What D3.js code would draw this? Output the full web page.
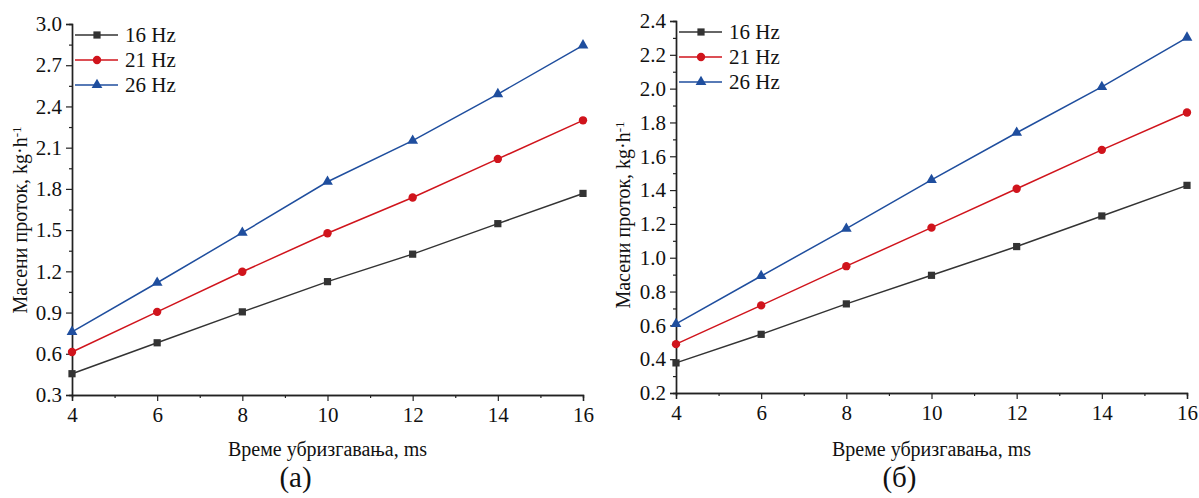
<!DOCTYPE html>
<html lang="sr">
<head>
  <meta charset="UTF-8">
  <title>Масени проток</title>
  <script src="https://d3js.org/d3.v7.min.js"></script>
  <style>
    body { margin: 0; background: #fff; }
    text { font-family: 'Liberation Serif', 'Times New Roman', serif; fill: #111; }
  </style>
</head>
<body>
<div class="canvas"></div>
<script>
  // data
  const xValues = [4, 6, 8, 10, 12, 14, 16]
  const seriesNames = ['16 Hz', '21 Hz', '26 Hz']
  const panelA16 = [0.455, 0.68, 0.905, 1.125, 1.325, 1.547, 1.767]
  const panelA21 = [0.613, 0.905, 1.197, 1.477, 1.737, 2.018, 2.299]
  const panelA26 = [0.76, 1.117, 1.481, 1.852, 2.151, 2.49, 2.845]
  const panelB16 = [0.378, 0.547, 0.727, 0.896, 1.066, 1.247, 1.428]
  const panelB21 = [0.489, 0.718, 0.95, 1.178, 1.408, 1.638, 1.859]
  const panelB26 = [0.609, 0.892, 1.172, 1.46, 1.739, 2.01, 2.302]
  const xTicks = [4, 6, 8, 10, 12, 14, 16]
  const yTicksA = [0.3, 0.6, 0.9, 1.2, 1.5, 1.8, 2.1, 2.4, 2.7, 3.0]
  const yTicksB = [0.2, 0.4, 0.6, 0.8, 1.0, 1.2, 1.4, 1.6, 1.8, 2.0, 2.2, 2.4]
  const xTitle = 'Време убризгавања, ms'
  const yTitle = 'Масени проток, kg·h'

  const colors = ['#333333', '#d0141c', '#1f4e9e']
  const symbols = [d3.symbolSquare, d3.symbolCircle, d3.symbolTriangle]
  const symSize = [52, 55, 50]

  const svg = d3.select('.canvas')
    .append('svg')
    .attr('width', 1199)
    .attr('height', 498)

  function panel(opt) {
    const x = d3.scaleLinear().domain([4, 16]).range([opt.x0, opt.x1])
    const y = d3.scaleLinear().domain(opt.yDomain).range([opt.y0, opt.y1])
    const g = svg.append('g')

    // minor ticks
    const xMinor = d3.range(5, 16, 2)
    const yMinor = opt.yTicks.slice(0, -1).map((t, i) => (t + opt.yTicks[i + 1]) / 2)

    g.append('g')
      .attr('transform', `translate(0,${opt.y0})`)
      .call(d3.axisBottom(x).tickValues(xMinor).tickSize(3).tickFormat(''))
    g.append('g')
      .attr('transform', `translate(${opt.x0},0)`)
      .call(d3.axisLeft(y).tickValues(yMinor).tickSize(3).tickFormat(''))

    const xa = g.append('g')
      .attr('transform', `translate(0,${opt.y0})`)
      .call(d3.axisBottom(x).tickValues(xTicks).tickSize(6).tickPadding(6).tickFormat(d3.format('d')))
    const ya = g.append('g')
      .attr('transform', `translate(${opt.x0},0)`)
      .call(d3.axisLeft(y).tickValues(opt.yTicks).tickSize(6).tickPadding(4).tickFormat(d3.format('.1f')))

    g.selectAll('.domain').attr('stroke', '#222').attr('stroke-width', 1.4)
    g.selectAll('.tick line').attr('stroke', '#222').attr('stroke-width', 1.2)
    g.selectAll('.tick text').attr('font-size', 21).attr('font-family', 'Liberation Serif').attr('fill', '#111')
    xa.selectAll('.tick text').attr('dy', '0.7em')

    const line = d3.line().x((d, i) => x(xValues[i])).y(d => y(d))
    opt.series.forEach((s, k) => {
      g.append('path')
        .attr('d', line(s))
        .attr('fill', 'none')
        .attr('stroke', colors[k])
        .attr('stroke-width', 1.5)
      g.selectAll(null)
        .data(s)
        .enter()
        .append('path')
        .attr('d', d3.symbol().type(symbols[k]).size(symSize[k]))
        .attr('transform', (d, i) => `translate(${x(xValues[i])},${y(d)})`)
        .attr('fill', colors[k])
    })

    // legend
    seriesNames.forEach((n, k) => {
      const ly = opt.legY + k * 25
      g.append('line')
        .attr('x1', opt.x0 + 3).attr('x2', opt.x0 + 46)
        .attr('y1', ly).attr('y2', ly)
        .attr('stroke', colors[k]).attr('stroke-width', 1.5)
      g.append('path')
        .attr('d', d3.symbol().type(symbols[k]).size(symSize[k]))
        .attr('transform', `translate(${opt.x0 + 25},${ly})`)
        .attr('fill', colors[k])
      g.append('text')
        .attr('x', opt.x0 + 53).attr('y', ly)
        .attr('dy', '0.35em')
        .attr('font-size', 21)
        .text(n)
    })

    // axis titles
    const cx = (opt.x0 + opt.x1) / 2
    g.append('text')
      .attr('x', cx).attr('y', 449)
      .attr('dy', '0.35em')
      .attr('text-anchor', 'middle')
      .attr('font-size', 20)
      .text(xTitle)
    g.append('text')
      .attr('x', cx - 32).attr('y', 477)
      .attr('dy', '0.35em')
      .attr('text-anchor', 'middle')
      .attr('font-size', 29)
      .text(opt.label)

    const yt = g.append('text')
      .attr('transform', `translate(${opt.yTitleX},${opt.yTitleY}) rotate(-90)`)
      .attr('text-anchor', 'middle')
      .attr('dy', '0.35em')
      .attr('font-size', 20)
    yt.append('tspan').text(yTitle)
    yt.append('tspan').attr('dy', '-0.45em').attr('font-size', 13).text('-1')
  }

  panel({
    x0: 72, x1: 583, y0: 395, y1: 24,
    yDomain: [0.3, 3.0], yTicks: yTicksA,
    series: [panelA16, panelA21, panelA26],
    legY: 35, label: '(a)', yTitleX: 20, yTitleY: 220
  })
  panel({
    x0: 676, x1: 1187, y0: 393, y1: 21,
    yDomain: [0.2, 2.4], yTicks: yTicksB,
    series: [panelB16, panelB21, panelB26],
    legY: 32, label: '(б)', yTitleX: 623, yTitleY: 215
  })
</script>
</body>
</html>
